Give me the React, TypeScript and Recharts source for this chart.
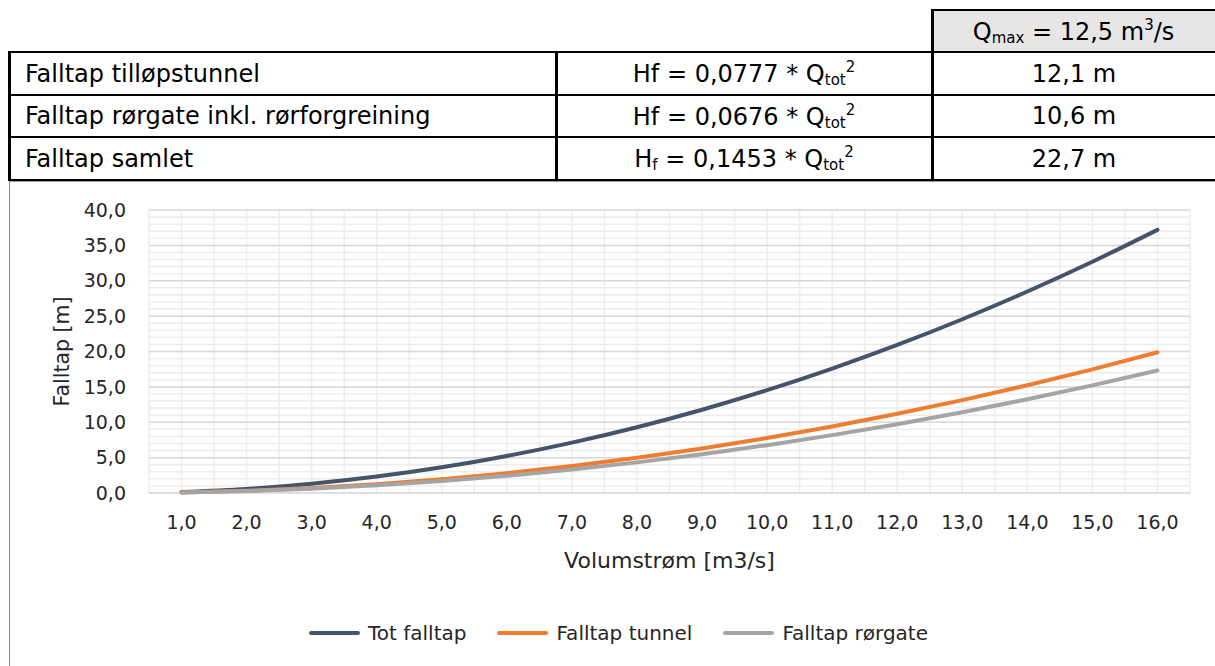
import React from "react";
import { CartesianGrid, Legend, Line, LineChart, XAxis, YAxis } from "recharts";

// Volumstrøm [m3/s]
const flow = [1, 2, 3, 4, 5, 6, 7, 8, 9, 10, 11, 12, 13, 14, 15, 16];
// Falltap [m]
const totFalltap = [0.15, 0.58, 1.31, 2.32, 3.63, 5.23, 7.12, 9.3, 11.77, 14.53, 17.58, 20.92, 24.56, 28.48, 32.69, 37.2];
const falltapTunnel = [0.08, 0.31, 0.7, 1.24, 1.94, 2.8, 3.81, 4.97, 6.29, 7.77, 9.4, 11.19, 13.13, 15.23, 17.48, 19.89];
const falltapRorgate = [0.07, 0.27, 0.61, 1.08, 1.69, 2.43, 3.31, 4.33, 5.48, 6.76, 8.18, 9.73, 11.42, 13.25, 15.21, 17.31];

const yTicks = [0, 5, 10, 15, 20, 25, 30, 35, 40];

const seriesKeys = ["tot", "tunnel", "rorgate"];
const seriesNames = ["Tot falltap", "Falltap tunnel", "Falltap rørgate"];
const seriesColors = ["#44546a", "#ed7d31", "#a5a5a5"];

// table
const rowLabels = ["Falltap tilløpstunnel", "Falltap rørgate inkl. rørforgreining", "Falltap samlet"];
const rowCoefs = ["0,0777", "0,0676", "0,1453"];
const rowValues = ["12,1 m", "10,6 m", "22,7 m"];

const data = flow.map((q, i) => ({
  q,
  tot: totFalltap[i],
  tunnel: falltapTunnel[i],
  rorgate: falltapRorgate[i],
}));

const minorY = Array.from({ length: 41 }, (_, i) => i);
const vGrid = Array.from({ length: 33 }, (_, i) => 0.5 + i * 0.5);

const fmt = (v: number) => v.toFixed(1).replace(".", ",");

const FONT = '"DejaVu Sans", sans-serif';
const TEXT = "#262626";

const Rule = ({ x, y, w, h, c = "#000" }: { x: number; y: number; w: number; h: number; c?: string }) => (
  <div style={{ position: "absolute", left: x, top: y, width: w, height: h, background: c }} />
);

const Cell = ({ x, y, w, h, align, children }: any) => (
  <div
    style={{
      position: "absolute",
      left: x,
      top: y,
      width: w,
      height: h,
      display: "flex",
      alignItems: "center",
      justifyContent: align === "left" ? "flex-start" : "center",
      paddingLeft: align === "left" ? 15 : 0,
      boxSizing: "border-box",
      fontSize: 24,
      color: "#000",
      whiteSpace: "nowrap",
    }}
  >
    {children}
  </div>
);

const sub = { fontSize: 15, verticalAlign: "-3px" } as const;
const sup = { fontSize: 15, verticalAlign: "10px" } as const;

const renderLegend = () => (
  <div style={{ display: "flex", justifyContent: "center", alignItems: "center", height: 40, gap: 31 }}>
    {seriesNames.map((name, i) => (
      <div key={name} style={{ display: "flex", alignItems: "center" }}>
        <span
          style={{ display: "inline-block", width: 51, height: 4, borderRadius: 2, background: seriesColors[i], marginRight: 8 }}
        />
        <span style={{ fontSize: 20, color: TEXT, fontFamily: FONT }}>{name}</span>
      </div>
    ))}
  </div>
);

const rowTops = [53, 96, 138];
const rowHeight = [41, 40, 41];

export default function App() {
  return (
    <div
      style={{
        position: "absolute",
        left: 0,
        top: 0,
        width: 1215,
        height: 666,
        background: "#fff",
        overflow: "hidden",
        fontFamily: FONT,
      }}
    >
      {/* header cell */}
      <div style={{ position: "absolute", left: 932, top: 10, width: 283, height: 42, background: "#e7e6e6" }} />
      <Cell x={932} y={11} w={283} h={40}>
        <span>
          Q<span style={sub}>max</span> = 12,5 m<span style={sup}>3</span>/s
        </span>
      </Cell>

      {rowLabels.map((label, i) => (
        <React.Fragment key={label}>
          <Cell x={10} y={rowTops[i]} w={545} h={rowHeight[i]} align="left">
            {label}
          </Cell>
          <Cell x={557} y={rowTops[i]} w={374} h={rowHeight[i]}>
            <span>
              {i === 2 ? (
                <>
                  H<span style={sub}>f</span>
                </>
              ) : (
                "Hf"
              )}{" "}
              = {rowCoefs[i]} * Q<span style={sub}>tot</span>
              <span style={sup}>2</span>
            </span>
          </Cell>
          <Cell x={933} y={rowTops[i]} w={282} h={rowHeight[i]}>
            {rowValues[i]}
          </Cell>
        </React.Fragment>
      ))}

      {/* table rules */}
      <Rule x={931} y={9} w={284} h={2} />
      <Rule x={8} y={51} w={1207} h={2} />
      <Rule x={8} y={94} w={1207} h={2} />
      <Rule x={8} y={136} w={1207} h={2} />
      <Rule x={8} y={179} w={1207} h={2} />
      <Rule x={8} y={51} w={3} h={130} />
      <Rule x={555} y={51} w={3} h={130} />
      <Rule x={931} y={9} w={3} h={172} />

      {/* chart frame */}
      <Rule x={9} y={181} w={1206} h={1} c="#9a9a9a" />
      <Rule x={9} y={181} w={1} h={485} c="#8a8a8a" />

      <div style={{ position: "absolute", left: 0, top: 181 }}>
        <LineChart width={1215} height={485} data={data} margin={{ top: 29, right: 25, left: 0, bottom: 13 }}>
          <CartesianGrid horizontalValues={minorY} verticalValues={vGrid} stroke="#ededed" strokeWidth={1.5} />
          <CartesianGrid horizontalValues={yTicks} vertical={false} stroke="#d9d9d9" strokeWidth={1.5} />
          <XAxis
            dataKey="q"
            type="number"
            domain={[0.5, 16.5]}
            ticks={flow}
            tickFormatter={fmt}
            axisLine={false}
            tickLine={false}
            tickSize={0}
            tickMargin={23}
            height={120}
            interval={0}
            tick={{ fontSize: 19, fill: TEXT, fontFamily: FONT }}
            label={{
              value: "Volumstrøm [m3/s]",
              position: "insideBottom",
              offset: 45,
              style: { fontSize: 22, fill: TEXT, fontFamily: FONT },
            }}
          />
          <YAxis
            domain={[0, 40]}
            ticks={yTicks}
            tickFormatter={fmt}
            axisLine={false}
            tickLine={false}
            tickSize={0}
            tickMargin={23}
            width={149}
            interval={0}
            tick={{ fontSize: 19, fill: TEXT, fontFamily: FONT }}
            label={{
              value: "Falltap [m]",
              angle: -90,
              position: "insideLeft",
              offset: 62,
              style: { textAnchor: "middle", fontSize: 20.5, fill: TEXT, fontFamily: FONT },
            }}
          />
          <Legend verticalAlign="bottom" content={renderLegend} wrapperStyle={{ left: 23, width: 1191, height: 40 }} />
          {seriesKeys.map((key, i) => (
            <Line
              key={key}
              type="monotone"
              dataKey={key}
              name={seriesNames[i]}
              stroke={seriesColors[i]}
              strokeWidth={4}
              strokeLinecap="round"
              dot={false}
              activeDot={false}
              isAnimationActive={false}
            />
          ))}
        </LineChart>
      </div>
    </div>
  );
}
